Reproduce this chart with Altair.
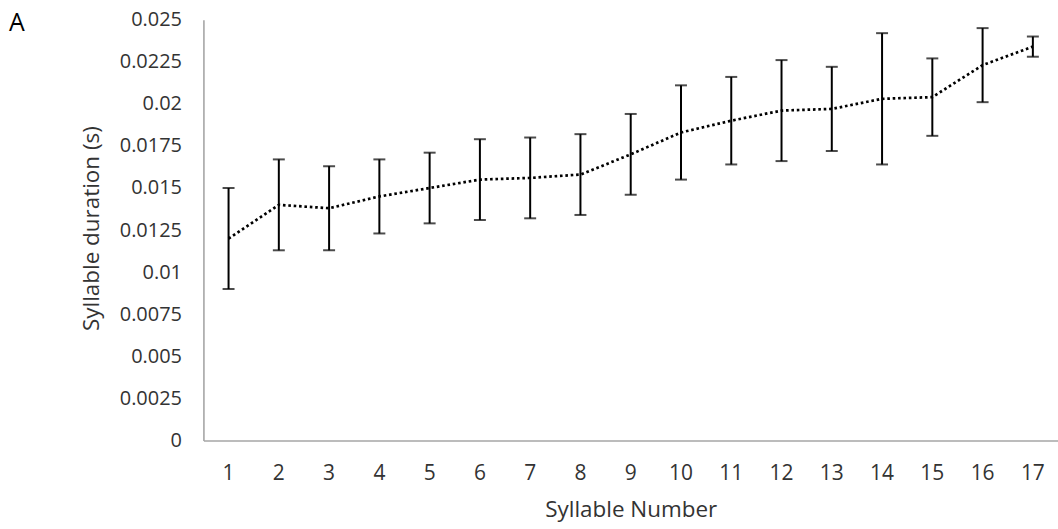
import altair as alt
import pandas as pd

# Mean syllable duration (s) and error-bar half-width per syllable position
syllable = list(range(1, 18))
mean_dur = [0.0120, 0.0140, 0.0138, 0.0145, 0.0150, 0.0155, 0.0156, 0.0158, 0.0170,
            0.0183, 0.0190, 0.0196, 0.0197, 0.0203, 0.0204, 0.0223, 0.0234]
err_dur = [0.0030, 0.0027, 0.0025, 0.0022, 0.0021, 0.0024, 0.0024, 0.0024, 0.0024,
           0.0028, 0.0026, 0.0030, 0.0025, 0.0039, 0.0023, 0.0022, 0.0006]
y_ticks = [0, 0.0025, 0.005, 0.0075, 0.01, 0.0125, 0.015, 0.0175, 0.02, 0.0225, 0.025]

df = pd.DataFrame({"syllable": syllable, "mean": mean_dur, "err": err_dur})
df["lo"] = df["mean"] - df["err"]
df["hi"] = df["mean"] + df["err"]

FONT = "Open Sans"
TXT = "#333333"
AXIS_GREY = "#a6a6a6"

x_enc = alt.X(
    "syllable:O",
    title="Syllable Number",
    axis=alt.Axis(labelAngle=0, ticks=False, labelPadding=22, labelFontSize=21,
                  titleFontWeight="normal", titleY=76, titleBaseline="alphabetic"),
)
y_scale = alt.Scale(domain=[0, 0.025], nice=False, zero=True)

base = alt.Chart(df)

stems = base.mark_rule(color="black", strokeWidth=2).encode(
    x=x_enc,
    y=alt.Y("lo:Q", scale=y_scale, title="Syllable duration (s)",
            axis=alt.Axis(values=y_ticks, labelExpr="datum.value + ''",
                          ticks=False, grid=False, labelFontSize=20,
                          labelPadding=22, titleFontWeight="normal",
                          titleX=-112, titleY=209, titleBaseline="middle")),
    y2="hi:Q",
)

caps_hi = base.mark_tick(color="black", size=12, thickness=2).encode(
    x=x_enc, y=alt.Y("hi:Q", scale=y_scale)
)
caps_lo = base.mark_tick(color="black", size=12, thickness=2).encode(
    x=x_enc, y=alt.Y("lo:Q", scale=y_scale)
)

line = base.mark_line(color="black", strokeWidth=2.7, strokeDash=[2.6, 2.8]).encode(
    x=x_enc, y=alt.Y("mean:Q", scale=y_scale)
)

panel = alt.Chart(pd.DataFrame({"t": ["A"]})).mark_text(
    font=FONT, fontSize=25, color="black", align="left", baseline="middle"
).encode(text="t:N", x=alt.value(-195), y=alt.value(3))

chart = alt.layer(stems, caps_hi, caps_lo, line, panel).properties(
    width=857,
    height=422,
    autosize=alt.AutoSizeParams(type="none"),
    padding={"left": 204, "top": 19, "right": 0, "bottom": 88},
    background="white",
).configure_view(stroke=None).configure_axis(
    labelFont=FONT,
    titleFont=FONT,
    titleFontSize=22.5,
    labelColor=TXT,
    titleColor=TXT,
    domainColor=AXIS_GREY,
    domainWidth=1.6,
    grid=False,
)

chart.save("out.html", embed_options={"renderer": "svg", "actions": False})
